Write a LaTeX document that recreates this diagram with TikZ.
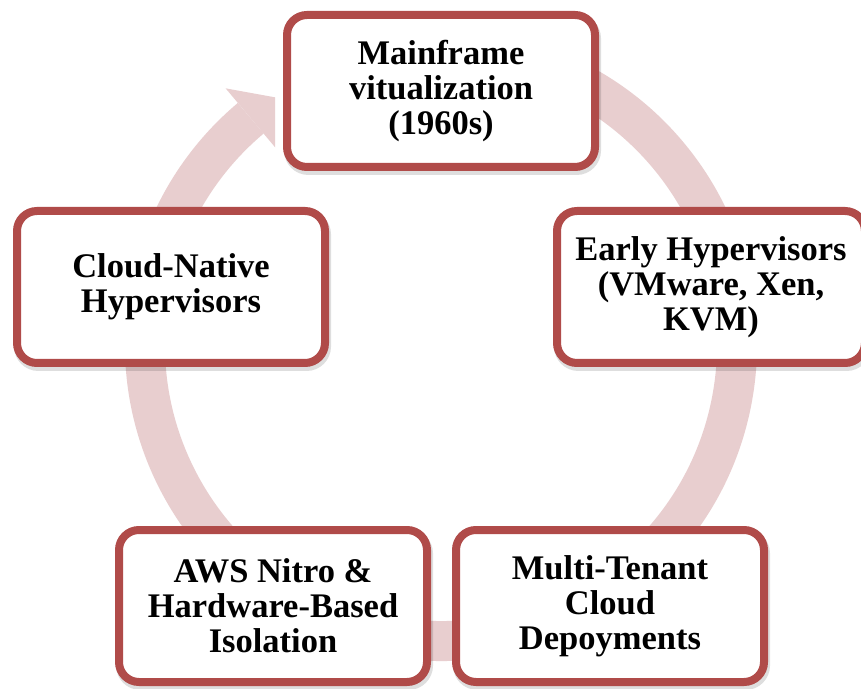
\documentclass[tikz,border=0pt]{standalone}
\usepackage{fontspec}
\setmainfont{Liberation Serif}
\definecolor{boxred}{RGB}{176,75,73}
\definecolor{ringpink}{RGB}{232,206,207}
\begin{document}
\begin{tikzpicture}[x=1pt,y=1pt]
\tikzset{
  shadowed/.style={preaction={fill=black, draw=black, line width=9pt, opacity=0.13,
      transform canvas={shift={(1.5pt,-3.5pt)}}}},
  stagebox/.style={shadowed, draw=boxred, fill=white, line width=8pt,
      rounded corners=20pt, minimum width=308pt, minimum height=152pt,
      inner sep=0pt, align=center, text=black,
      font=\bfseries\fontsize{34.5}{35}\selectfont},
  ringband/.style={draw=ringpink, line width=40pt},
  ringhead/.style={fill=ringpink, draw=none},
}
\useasboundingbox (0,0) rectangle (861,688);
\fill[white] (0,0) rectangle (861,688);
% circular band with arrowhead
\coordinate (ctr) at (441,343);
\draw[ringband] ([shift={(80:296)}]ctr) arc[start angle=80, end angle=-230, radius=296pt];
\fill[ringhead] ([shift={(130:335)}]ctr) -- ([shift={(123.8:298)}]ctr) -- ([shift={(130:258)}]ctr) -- cycle;
% stages
\node[stagebox] (mainframe) at (441,597) {Mainframe\\vitualization\\(1960s)};
\node[stagebox] (early) at (711,401) {Early Hypervisors\\(VMware, Xen,\\KVM)};
\node[stagebox] (multi) at (610,82) {Multi-Tenant\\Cloud\\Depoyments};
\node[stagebox] (nitro) at (273,82) {AWS Nitro \&\\Hardware-Based\\Isolation};
\node[stagebox] (native) at (171,401) {Cloud-Native\\Hypervisors};
\end{tikzpicture}
\end{document}
